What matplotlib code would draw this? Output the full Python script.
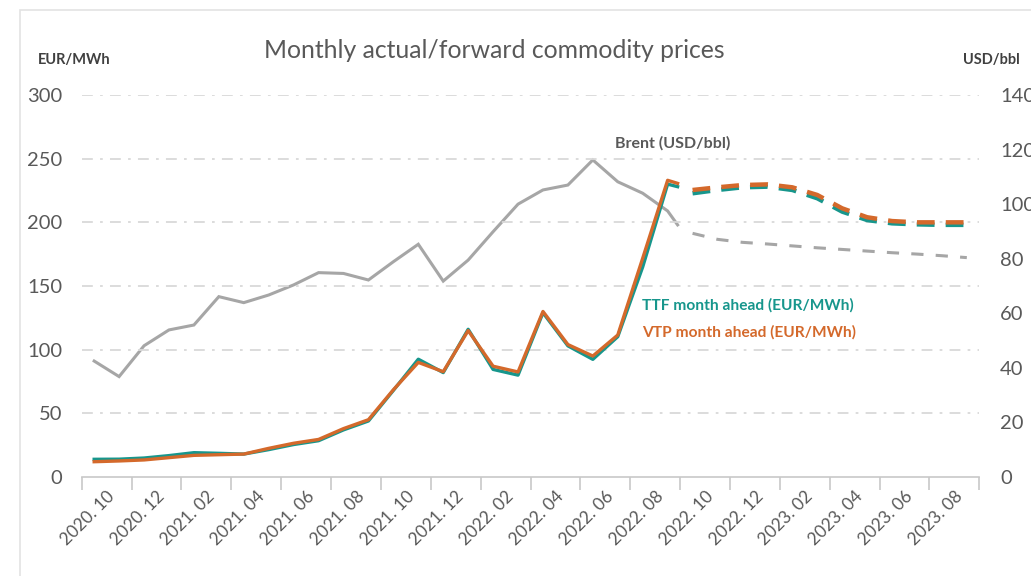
import matplotlib.pyplot as plt
import matplotlib.patches as mpatches
import numpy as np

plt.rcParams['font.family'] = ['Lato', 'DejaVu Sans']

# month labels, every second month from 2020.10 to 2023.08
tick_labels = ['2020. 10', '2020. 12', '2021. 02', '2021. 04', '2021. 06', '2021. 08',
               '2021. 10', '2021. 12', '2022. 02', '2022. 04', '2022. 06', '2022. 08',
               '2022. 10', '2022. 12', '2023. 02', '2023. 04', '2023. 06', '2023. 08']

# actual monthly values (month index 0 = 2020.10), last point is a partial month
actual_x = list(range(24)) + [23.4]
ttf_actual = [13.9, 14, 14.9, 16.8, 19.1, 18.6, 18, 21.5, 25.5, 28.5, 37, 44, 68,
              92.5, 82, 116, 84.5, 80, 129, 103, 92.4, 110.2, 165, 230, 228]
vtp_actual = [12, 12.6, 13.4, 15.2, 17, 17.5, 18, 22.5, 26.5, 29.5, 38, 45, 68.5,
              90, 82.7, 115, 87, 82.5, 130, 104, 95, 111.5, 171.8, 233, 230.6]
brent_actual = [42.5, 36.8, 48.1, 53.9, 55.7, 66.1, 63.9, 66.7, 70.4, 74.9, 74.6, 72.2,
                78.9, 85.3, 71.8, 79.5, 89.9, 100, 105.2, 107, 116.2, 108.2, 104, 97.5, 92.4]

# forward curves
fwd_x = list(range(24, 36))
ttf_fwd = [222.8, 225.4, 227.5, 228, 225.4, 218.9, 208.4, 201.8, 199.2, 198.4, 198, 198]
vtp_fwd = [225.4, 227.5, 229.3, 229.8, 227.5, 221.5, 211, 204, 201, 200, 200, 200]
brent_fwd = [89.3, 87.1, 86, 85.4, 84.7, 84.0, 83.4, 82.8, 82.2, 81.7, 81.1, 80.4]

teal = '#17968c'
orange = '#d4692b'
grey = '#a6a6a6'
txt = '#595959'

fig = plt.figure(figsize=(10.31, 5.76), dpi=100)
fig.patches.append(mpatches.Rectangle((20 / 1031, -0.1), 1.2, 1.1 - 10 / 576,
                                      transform=fig.transFigure, fill=False,
                                      edgecolor='#e3e3e3', lw=1.2))

ax = fig.add_axes([81.7 / 1031, 1 - 477 / 576, 897.6 / 1031, 382 / 576])
ax2 = ax.twinx()

ax.set_xlim(-0.5, 35.5)
ax.set_ylim(0, 300)
ax2.set_ylim(0, 140)

for a in (ax, ax2):
    for s in ('top', 'left', 'right'):
        a.spines[s].set_visible(False)
ax2.spines['bottom'].set_visible(False)
ax.spines['bottom'].set_color('#c8c8c8')
ax.spines['bottom'].set_linewidth(1.2)

# grid
for v in range(50, 301, 50):
    ax.plot([-0.5, 35.5], [v, v], color='#d9d9d9', lw=1.3,
            dashes=(6, 4, 1.5, 4), zorder=0)

# brent on right axis
ax2.plot(actual_x, brent_actual, color=grey, lw=2.2, solid_joinstyle='miter')
ax2.plot(fwd_x, brent_fwd, color=grey, lw=2.2, dashes=(4, 4))

ax.plot(actual_x, ttf_actual, color=teal, lw=2.4, zorder=3)
ax.plot(actual_x, vtp_actual, color=orange, lw=2.4, zorder=4)
ax.plot(fwd_x, ttf_fwd, color=teal, lw=3.2, dashes=(4, 2.5), zorder=3)
ax.plot(fwd_x, vtp_fwd, color=orange, lw=3.2, dashes=(4, 2.5), zorder=4)
ax.set_zorder(ax2.get_zorder() + 1)
ax.patch.set_visible(False)

# x ticks: marks between pairs of months, labels centered on pairs
ax.set_xticks(np.arange(-0.5, 36, 2))
ax.set_xticklabels([])
ax.tick_params(axis='x', which='major', length=9, color='#c8c8c8', width=1.2, direction='out')
ax.set_xticks(np.arange(0.5, 36, 2), minor=True)
ax.set_xticklabels(tick_labels, minor=True, rotation=45, ha='right', va='top',
                   rotation_mode='anchor', fontsize=12.5, color=txt)
ax.tick_params(axis='x', which='minor', length=0, pad=8)

ax.set_yticks(range(0, 301, 50))
ax.tick_params(axis='y', length=0, labelsize=14.5, labelcolor=txt, pad=14)
ax2.set_yticks(range(0, 141, 20))
ax2.tick_params(axis='y', length=0, labelsize=14.5, labelcolor=txt, pad=15)

fig.text(494 / 1031, 1 - 50 / 576, 'Monthly actual/forward commodity prices',
         ha='center', va='center', fontsize=17.8, color=txt)
fig.text(38 / 1031, 1 - 60 / 576, 'EUR/MWh', ha='left', va='center',
         fontsize=10.5, color='#404040', fontweight='bold')
fig.text(963 / 1031, 1 - 60 / 576, 'USD/bbl', ha='left', va='center',
         fontsize=10.5, color='#404040', fontweight='bold')

ax.text(20.9, 262, 'Brent (USD/bbl)', ha='left', va='center', fontsize=11.5,
        color=txt, fontweight='bold')
ax.text(21.96, 135, 'TTF month ahead (EUR/MWh)', ha='left', va='center',
        fontsize=11.2, color=teal, fontweight='bold')
ax.text(21.96, 114, 'VTP month ahead (EUR/MWh)', ha='left', va='center',
        fontsize=11.2, color=orange, fontweight='bold')

fig.savefig('out.png', dpi=100)
